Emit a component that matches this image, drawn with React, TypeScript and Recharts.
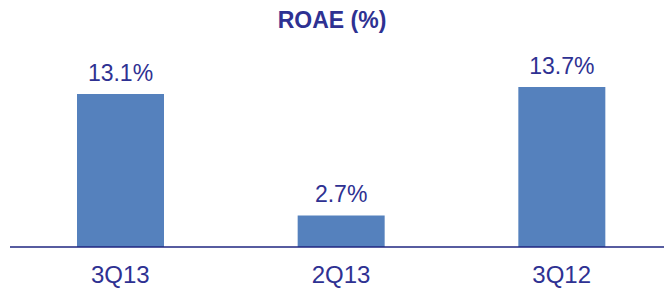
import React from "react";
import { BarChart, Bar, XAxis, YAxis, LabelList } from "recharts";

const categories = ["3Q13", "2Q13", "3Q12"];
const roae = [13.1, 2.7, 13.7];
const title = "ROAE (%)";

const data = categories.map((c, i) => ({ name: c, value: roae[i] }));

const textColor = "#2E3192";

export default function App() {
  return (
    <div style={{ position: "absolute", left: 0, top: 0, width: 664, height: 289, overflow: "hidden", background: "#fff", fontFamily: "'Liberation Sans', Arial, sans-serif" }}>
      <div style={{ position: "absolute", left: 0, top: 7, width: 664, textAlign: "center", color: textColor, fontWeight: "bold", fontSize: 23, lineHeight: "normal" }}>{title}</div>
      <BarChart width={672} height={289} data={data} margin={{ top: 60, right: 0, bottom: 12, left: 10 }}>
        <YAxis hide domain={[0, 16]} />
        <XAxis
          dataKey="name"
          height={30}
          axisLine={{ stroke: "#1F2680", strokeWidth: 1.5 }}
          tickLine={false}
          tick={{ fill: textColor, fontSize: 24 }}
          tickMargin={13}
        />
        <Bar dataKey="value" fill="#5581BD" barSize={87} isAnimationActive={false}>
          <LabelList dataKey="value" position="top" offset={13} formatter={(v: number) => `${v}%`} fill={textColor} fontSize={23} />
        </Bar>
      </BarChart>
    </div>
  );
}
